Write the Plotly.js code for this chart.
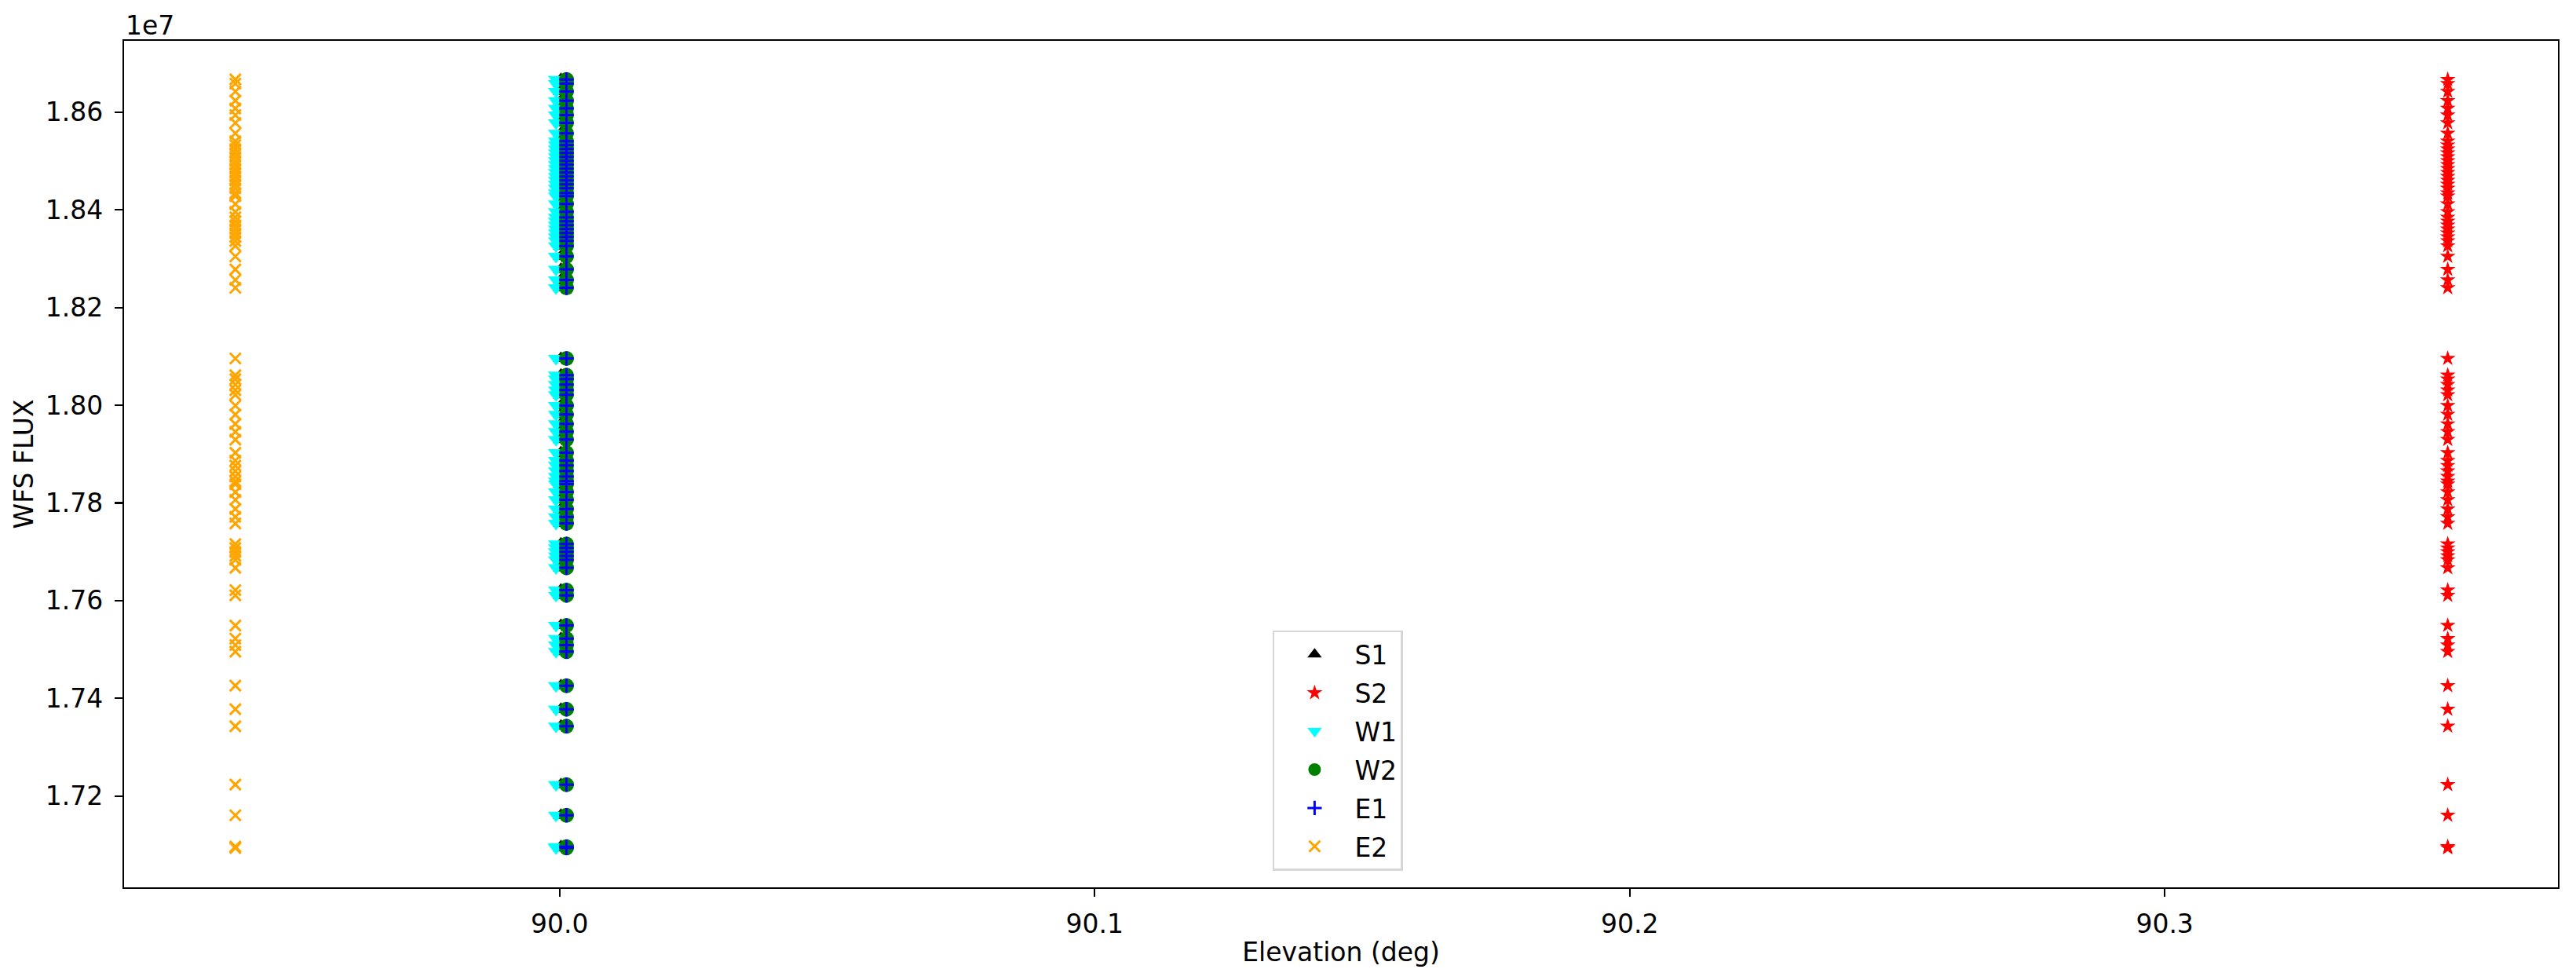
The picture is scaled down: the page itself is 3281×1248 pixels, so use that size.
<!DOCTYPE html>
<html>
<head>
<meta charset="utf-8">
<script src="https://cdn.plot.ly/plotly-3.0.1.min.js"></script>
<style>
  html, body { margin: 0; padding: 0; background: #ffffff; }
  #chart { width: 3281px; height: 1248px; }
</style>
</head>
<body>
<div id="chart"></div>
<script>
// ---- data ----
const seriesNames = ["S1", "S2", "W1", "W2", "E1", "E2"];
// elevation (deg) of each sensor series
const elevationS1 = 90.00026;
const elevationS2 = 90.3529;
const elevationW1 = 89.99934;
const elevationW2 = 90.00129;
const elevationE1 = 90.00129;
const elevationE2 = 89.9394;
// WFS flux values (shared by all series)
const wfsFlux = [
  1.8667e7, 1.86584e7, 1.86423e7, 1.86236e7, 1.86076e7, 1.85941e7, 1.8578e7, 1.85566e7,
  1.85405e7, 1.85325e7, 1.85244e7, 1.85164e7, 1.85084e7, 1.85003e7, 1.84923e7, 1.84842e7,
  1.84762e7, 1.84682e7, 1.84601e7, 1.84521e7, 1.84441e7, 1.84344e7, 1.8428e7, 1.84119e7,
  1.83958e7, 1.83846e7, 1.83765e7, 1.83685e7, 1.83605e7, 1.83524e7, 1.83444e7, 1.83363e7,
  1.83262e7, 1.83047e7, 1.8278e7, 1.82564e7, 1.82404e7,
  1.80957e7, 1.80614e7, 1.80534e7, 1.80421e7, 1.80309e7, 1.80212e7, 1.79992e7, 1.7981e7,
  1.79617e7, 1.79457e7, 1.79296e7, 1.79027e7, 1.78867e7, 1.78765e7, 1.78653e7, 1.7854e7,
  1.78444e7, 1.78384e7, 1.78223e7, 1.78063e7, 1.77876e7, 1.77715e7, 1.7758e7, 1.77158e7,
  1.77077e7, 1.76997e7, 1.76916e7, 1.76833e7, 1.76671e7, 1.76214e7, 1.76108e7, 1.7549e7,
  1.75223e7, 1.75089e7, 1.74955e7, 1.74259e7, 1.73777e7, 1.73428e7, 1.72233e7, 1.71606e7,
  1.70963e7, 1.70936e7
];
// axis ticks
const xTickVals = [90.0, 90.1, 90.2, 90.3];
const xTickText = ["90.0", "90.1", "90.2", "90.3"];
const yTickVals = [1.72e7, 1.74e7, 1.76e7, 1.78e7, 1.80e7, 1.82e7, 1.84e7, 1.86e7];
const yTickText = ["1.72", "1.74", "1.76", "1.78", "1.80", "1.82", "1.84", "1.86"];
const xRange = [89.9186, 90.3735];
const yRange = [1.7013e7, 1.8746e7];

// ---- traces ----
const elevations = [elevationS1, elevationS2, elevationW1, elevationW2, elevationE1, elevationE2];
const styles = [
  { symbol: "triangle-up", color: "#000000", size: 18 },
  { symbol: "star", color: "#ff0000", size: 15 },
  { symbol: "triangle-down", color: "#00ffff", size: 18 },
  { symbol: "circle", color: "#008000", size: 19 },
  { symbol: "cross-thin", color: "#0000ff", size: 13, thin: true },
  { symbol: "x-thin", color: "#ffa500", size: 14, thin: true }
];

const traces = seriesNames.map((name, i) => {
  const st = styles[i];
  return {
    type: "scatter",
    mode: "markers",
    name: name,
    legendgroup: name,
    x: wfsFlux.map(() => elevations[i]),
    y: wfsFlux,
    marker: {
      symbol: st.symbol,
      size: st.size,
      color: st.color,
      line: st.thin ? { color: st.color, width: 3 } : { width: 0 }
    },
    hoverinfo: "x+y+name"
  };
});

const font = { family: "DejaVu Sans, Verdana, sans-serif", size: 33, color: "#000000" };

const layout = {
  width: 3281,
  height: 1248,
  paper_bgcolor: "#ffffff",
  plot_bgcolor: "#ffffff",
  font: font,
  margin: { l: 158, r: 23, t: 52, b: 118, pad: 0 },
  showlegend: true,
  legend: {
    x: 0.4719, y: 0.3035, xanchor: "left", yanchor: "top",
    bgcolor: "#ffffff", bordercolor: "#d6d6d6", borderwidth: 2.5,
    font: font, itemwidth: 92, tracegroupgap: 3, traceorder: "grouped"
  },
  xaxis: {
    range: xRange,
    tickmode: "array", tickvals: xTickVals, ticktext: xTickText,
    ticks: "outside", ticklen: 10, tickwidth: 2.2, tickcolor: "#000000",
    showline: true, linecolor: "#000000", linewidth: 2.2, mirror: true,
    showgrid: false, zeroline: false,
    tickfont: font, ticklabelstandoff: 6,
    title: { text: "Elevation (deg)", font: font, standoff: 6 }
  },
  yaxis: {
    range: yRange,
    tickmode: "array", tickvals: yTickVals, ticktext: yTickText,
    ticks: "outside", ticklen: 10, tickwidth: 2.2, tickcolor: "#000000",
    showline: true, linecolor: "#000000", linewidth: 2.2, mirror: true,
    showgrid: false, zeroline: false,
    tickfont: font, ticklabelstandoff: 8,
    title: { text: "WFS FLUX", font: font, standoff: 5 }
  },
  annotations: [{
    text: "1e7", xref: "paper", yref: "paper", x: 0, y: 1,
    xanchor: "left", yanchor: "bottom", showarrow: false,
    font: font, xshift: 0, yshift: -2
  }]
};

Plotly.newPlot("chart", traces, layout, { displayModeBar: false, staticPlot: true });
</script>
</body>
</html>
